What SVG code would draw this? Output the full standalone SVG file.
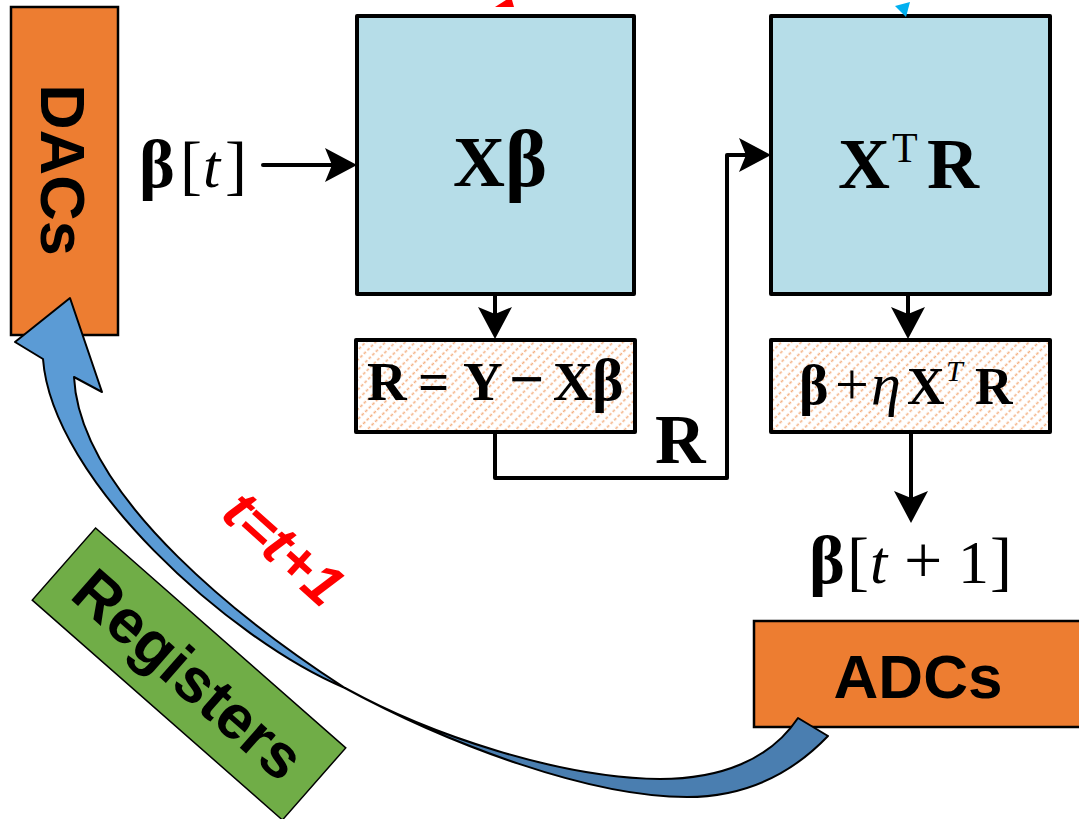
<svg xmlns="http://www.w3.org/2000/svg" width="1079" height="819" viewBox="0 0 1079 819">
<style>
.blk{fill:#B6DDE8;stroke:#000;stroke-width:4;stroke-linejoin:round}
.hat{fill:url(#hatch);stroke:#000;stroke-width:4;stroke-linejoin:round}
.org{fill:#ED7D31;stroke:#000;stroke-width:2.5}
.mb{font-family:"Liberation Serif","Times New Roman",serif;font-weight:bold;fill:#000}
.mr{font-family:"Liberation Serif","Times New Roman",serif;font-weight:normal;fill:#000}
.mi{font-family:"Liberation Serif","Times New Roman",serif;font-weight:normal;font-style:italic;fill:#000}
.sb{font-family:"Liberation Sans",Arial,sans-serif;font-weight:bold;fill:#000}
.con{fill:none;stroke:#000;stroke-width:4;stroke-linecap:round;stroke-linejoin:round}
</style>
<defs>
<pattern id="hatch" patternUnits="userSpaceOnUse" width="7" height="10" patternTransform="rotate(45)">
<rect width="7" height="10" fill="#fff"/>
<line x1="3.5" y1="0" x2="3.5" y2="10" stroke="#F4B183" stroke-width="1.6" stroke-dasharray="3 2"/>
</pattern>
<marker id="ah" markerUnits="userSpaceOnUse" markerWidth="32" markerHeight="34" refX="22" refY="17" orient="auto">
<path d="M0,0 L32,17 L0,34 L7,17 Z" fill="#000"/>
</marker>
</defs>
<rect width="1079" height="819" fill="#fff"/>

<g id="dacs">
<rect class="org" x="11" y="7" width="107" height="328"/>
<text class="sb" font-size="63" text-anchor="middle" transform="translate(41,170) rotate(90)">DACs</text>
</g>

<g id="xbeta">
<rect class="blk" x="357" y="16" width="277" height="278"/>
<text class="mb" font-size="72" y="186"><tspan x="453">X</tspan><tspan x="505" font-size="80">β</tspan></text>
</g>

<g id="xtr">
<rect class="blk" x="771" y="16" width="279" height="278"/>
<text class="mb" font-size="72" y="188"><tspan x="838">X</tspan><tspan class="mr" font-weight="normal" x="892" y="162" font-size="42">T</tspan><tspan x="927" y="188">R</tspan></text>
</g>

<g id="residual">
<rect class="hat" x="356" y="340" width="279" height="92"/>
<text class="mb" font-size="55" y="400"><tspan x="367">R</tspan><tspan x="418">=</tspan><tspan x="463">Y</tspan><tspan x="509" font-size="62">−</tspan><tspan x="553">X</tspan><tspan x="592" font-size="60">β</tspan></text>
</g>

<g id="update">
<rect class="hat" x="771" y="340" width="279" height="92"/>
<text font-size="52" y="404"><tspan class="mb" x="799" font-size="56">β</tspan><tspan class="mr" x="835" font-size="60">+</tspan><tspan class="mi" x="871" font-size="60">η</tspan><tspan class="mb" x="907">X</tspan><tspan class="mi" x="946" y="381" font-size="30">T</tspan><tspan class="mb" x="975" y="404">R</tspan></text>
</g>

<g id="beta-t">
<text font-size="62" y="187"><tspan class="mb" x="139" font-size="68">β</tspan><tspan class="mr" x="180" font-size="66">[</tspan><tspan class="mi" x="203">t</tspan><tspan class="mr" x="225" font-size="66">]</tspan></text>
</g>

<g id="beta-t1">
<text font-size="62" y="583"><tspan class="mb" x="809" font-size="68">β</tspan><tspan class="mr" x="847" font-size="66">[</tspan><tspan class="mi" x="870">t</tspan><tspan class="mr" x="904" font-size="68">+</tspan><tspan class="mr" x="958">1</tspan><tspan class="mr" x="990" font-size="66">]</tspan></text>
</g>

<g id="adcs">
<rect class="org" x="754" y="621" width="340" height="106"/>
<text class="sb" font-size="62" x="918" y="698" text-anchor="middle">ADCs</text>
</g>

<g id="registers" transform="translate(189,674) rotate(41.3)">
<rect x="-166.5" y="-48" width="333" height="96" fill="#70AD47" stroke="#000" stroke-width="1.5"/>
<text class="sb" font-size="62" x="0" y="22" text-anchor="middle">Registers</text>
</g>

<g id="increment">
<text font-family="Liberation Sans, Arial, sans-serif" font-weight="bold" font-style="italic" font-size="58" fill="#FF0000" text-anchor="middle" transform="translate(284,548) rotate(42)" y="20">t=t+1</text>
</g>

<g id="connectors">
<path class="con" d="M263,165 H347" marker-end="url(#ah)"/>
<path class="con" d="M495,296 V329" marker-end="url(#ah)"/>
<path class="con" d="M495,434 V478 H727 V155 H761" marker-end="url(#ah)"/>
<text class="mb" font-size="70" x="655" y="463">R</text>
<path class="con" d="M908,296 V329" marker-end="url(#ah)"/>
<path class="con" d="M911,434 V513" marker-end="url(#ah)"/>
<polygon points="495,7 514,7 512,0 506,0" fill="#FF0000"/>
<polygon points="895,6 910,2 906,17" fill="#00B0F0"/>
<path d="M345,688 C450,745 590,797 687,797 C760,797 805,760 828,736 L798,718 C770,760 720,779 660,779 C560,778 430,735 345,688 Z" fill="#4A7EB0" stroke="#000" stroke-width="2" stroke-linejoin="round"/>
<path d="M70,298 L102,392 L74,377 C80,500 255,630 345,688 C230,640 52,480 43,359 L15,342 Z" fill="#5B9BD5" stroke="#000" stroke-width="2" stroke-linejoin="round"/>
</g>
</svg>
